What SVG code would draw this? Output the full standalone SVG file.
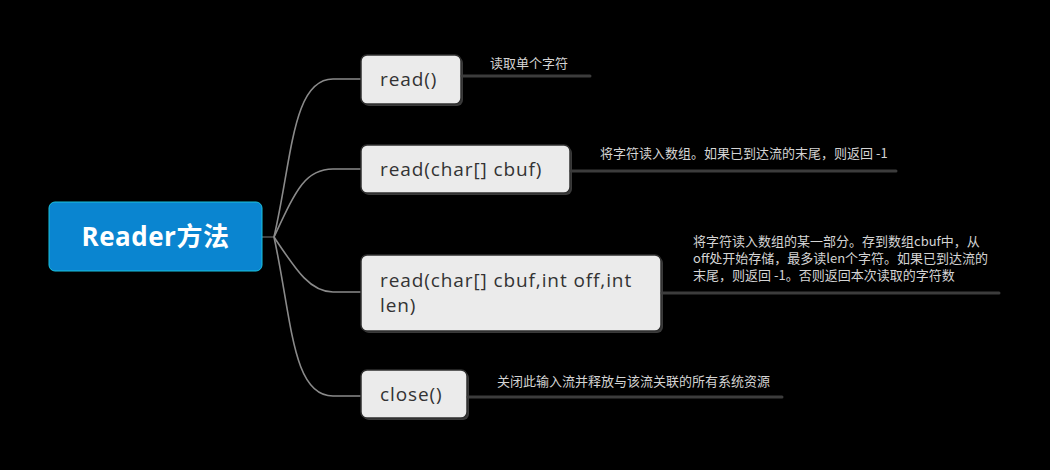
<svg xmlns="http://www.w3.org/2000/svg" width="1050" height="470" viewBox="0 0 1050 470">
<defs>
<style>
.box{fill:#ebebeb;stroke:#2f2f2f;stroke-width:1.5}
.shadow{fill:#3a3a3a}
.lbl{font-family:"Open Sans","Noto Sans CJK SC",sans-serif;font-size:19px;letter-spacing:0.9px;fill:#333333}
.note{font-family:"Noto Sans CJK SC","Noto Sans",sans-serif;font-size:13px;fill:#d4d4d4}
.conn{fill:none;stroke:#8a8a8a;stroke-width:1.6}
.ul{stroke:#3c3c3c;stroke-width:3;stroke-linecap:round}
.stub{stroke:#555555;stroke-width:1.5}
</style>
</defs>
<rect x="0" y="0" width="1050" height="470" fill="#000000"/>
<g id="connectors">
<line class="stub" x1="262" y1="237" x2="274" y2="237"/>
<path class="conn" d="M274,237 C292,160 292,79 333,79 L361,79"/>
<path class="conn" d="M274,237 C296,190 305,169 333,169 L361,169"/>
<path class="conn" d="M274,237 C296,270 310,292 333,292 L361,292"/>
<path class="conn" d="M274,237 C292,320 292,396 333,396 L361,396"/>
</g>
<g id="root">
<rect x="49" y="202" width="213" height="69" rx="6" fill="#0a85d0" stroke="#19c3e0" stroke-width="1"/>
<text x="155.5" y="246" text-anchor="middle" font-family="'Open Sans','Noto Sans CJK SC',sans-serif" font-size="26" font-weight="bold" letter-spacing="0.5" fill="#ffffff">Reader方法</text>
</g>
<g id="n1">
<rect class="shadow" x="363" y="57" width="100" height="49" rx="6"/>
<rect class="box" x="361" y="55" width="100" height="49" rx="6"/>
<text class="lbl" x="380" y="86">read()</text>
<line class="ul" x1="462" y1="76" x2="590" y2="76"/>
<text class="note" x="490" y="68">读取单个字符</text>
</g>
<g id="n2">
<rect class="shadow" x="363" y="147" width="209" height="48" rx="6"/>
<rect class="box" x="361" y="145" width="209" height="48" rx="6"/>
<text class="lbl" x="380" y="176">read(char[] cbuf)</text>
<line class="ul" x1="571" y1="171" x2="896" y2="171"/>
<text class="note" x="600" y="158">将字符读入数组。如果已到达流的末尾，则返回 -1</text>
</g>
<g id="n3">
<rect class="shadow" x="363" y="257" width="300" height="76" rx="6"/>
<rect class="box" x="361" y="255" width="300" height="76" rx="6"/>
<text class="lbl" x="380" y="287">read(char[] cbuf,int off,int</text>
<text class="lbl" x="380" y="312">len)</text>
<line class="ul" x1="662" y1="293" x2="999" y2="293"/>
<text class="note" x="693" y="246">将字符读入数组的某一部分。存到数组cbuf中，从</text>
<text class="note" x="693" y="263">off处开始存储，最多读len个字符。如果已到达流的</text>
<text class="note" x="693" y="280">末尾，则返回 -1。否则返回本次读取的字符数</text>
</g>
<g id="n4">
<rect class="shadow" x="363" y="372" width="106" height="48" rx="6"/>
<rect class="box" x="361" y="370" width="106" height="48" rx="6"/>
<text class="lbl" x="380" y="401">close()</text>
<line class="ul" x1="468" y1="397" x2="782" y2="397"/>
<text class="note" x="497" y="386">关闭此输入流并释放与该流关联的所有系统资源</text>
</g>
</svg>
